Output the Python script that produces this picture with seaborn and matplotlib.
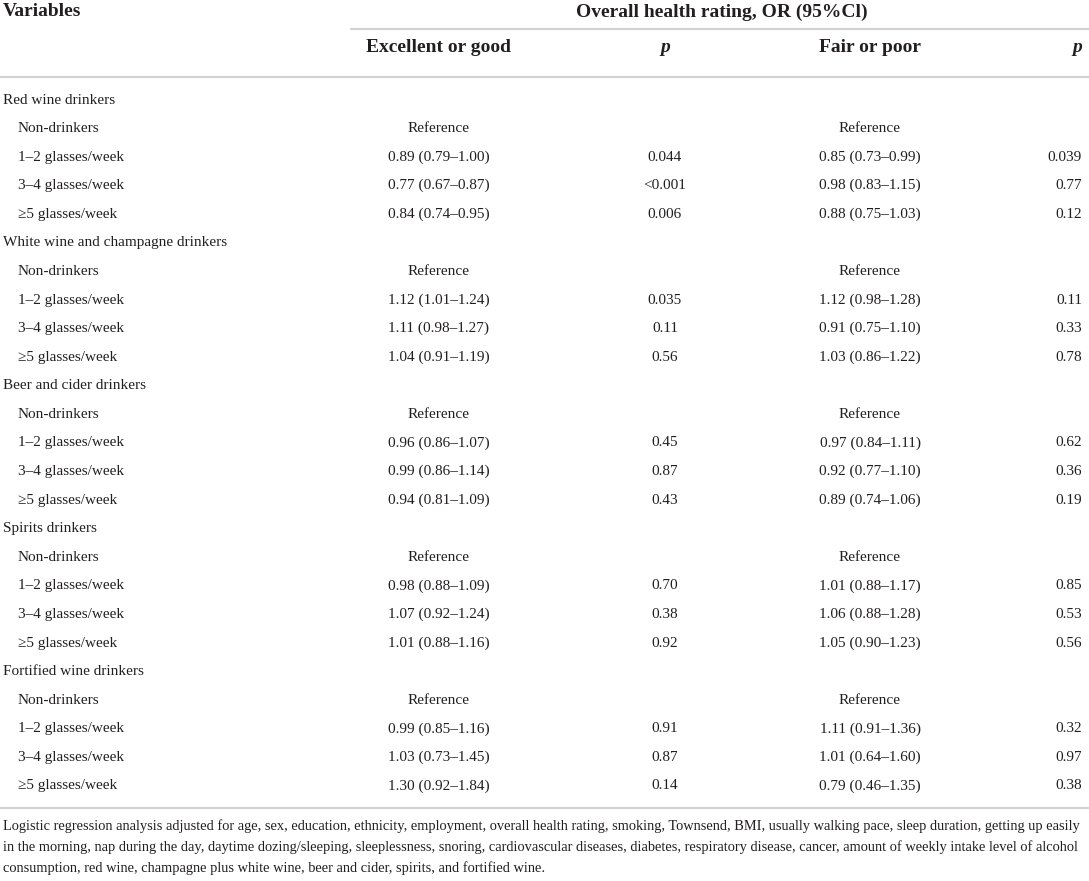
import matplotlib
matplotlib.use("Agg")
import matplotlib.pyplot as plt
import seaborn as sns

# Donnees du tableau
groups = ["Red wine drinkers", "White wine and champagne drinkers", "Beer and cider drinkers",
          "Spirits drinkers", "Fortified wine drinkers"]
levels = ["Non-drinkers", "1–2 glasses/week", "3–4 glasses/week", "≥5 glasses/week"]

good_or = [
    ["Reference", "0.89 (0.79–1.00)", "0.77 (0.67–0.87)", "0.84 (0.74–0.95)"],
    ["Reference", "1.12 (1.01–1.24)", "1.11 (0.98–1.27)", "1.04 (0.91–1.19)"],
    ["Reference", "0.96 (0.86–1.07)", "0.99 (0.86–1.14)", "0.94 (0.81–1.09)"],
    ["Reference", "0.98 (0.88–1.09)", "1.07 (0.92–1.24)", "1.01 (0.88–1.16)"],
    ["Reference", "0.99 (0.85–1.16)", "1.03 (0.73–1.45)", "1.30 (0.92–1.84)"],
]
good_p = [
    ["", "0.044", "<0.001", "0.006"],
    ["", "0.035", "0.11", "0.56"],
    ["", "0.45", "0.87", "0.43"],
    ["", "0.70", "0.38", "0.92"],
    ["", "0.91", "0.87", "0.14"],
]
poor_or = [
    ["Reference", "0.85 (0.73–0.99)", "0.98 (0.83–1.15)", "0.88 (0.75–1.03)"],
    ["Reference", "1.12 (0.98–1.28)", "0.91 (0.75–1.10)", "1.03 (0.86–1.22)"],
    ["Reference", "0.97 (0.84–1.11)", "0.92 (0.77–1.10)", "0.89 (0.74–1.06)"],
    ["Reference", "1.01 (0.88–1.17)", "1.06 (0.88–1.28)", "1.05 (0.90–1.23)"],
    ["Reference", "1.11 (0.91–1.36)", "1.01 (0.64–1.60)", "0.79 (0.46–1.35)"],
]
poor_p = [
    ["", "0.039", "0.77", "0.12"],
    ["", "0.11", "0.33", "0.78"],
    ["", "0.62", "0.36", "0.19"],
    ["", "0.85", "0.53", "0.56"],
    ["", "0.32", "0.97", "0.38"],
]

footnote = [
    "Logistic regression analysis adjusted for age, sex, education, ethnicity, employment, overall health rating, smoking, Townsend, BMI, usually walking pace, sleep duration, getting up easily",
    "in the morning, nap during the day, daytime dozing/sleeping, sleeplessness, snoring, cardiovascular diseases, diabetes, respiratory disease, cancer, amount of weekly intake level of alcohol",
    "consumption, red wine, champagne plus white wine, beer and cider, spirits, and fortified wine.",
]

sns.set_style("white")
plt.rcParams['font.family'] = ['Liberation Serif', 'DejaVu Serif']

txt = "#231f20"
grid = "#d2d2d2"

fig = plt.figure(figsize=(10.89, 8.81), dpi=100)
ax = fig.add_axes([0, 0, 1, 1])
ax.set_xlim(0, 1089)
ax.set_ylim(881, 0)
ax.axis("off")

# colonnes
x_lab = 3
x_sub = 18
x_good = 439
x_p1 = 665
x_poor = 870
x_p2 = 1082

fs = 11
fh = 14

# en-tete
ax.text(x_lab, 12, "Variables", fontsize=fh, fontweight="bold", va="center", color=txt)
ax.text(722, 12, "Overall health rating, OR (95%Cl)", fontsize=fh, fontweight="bold",
        va="center", ha="center", color=txt)
ax.plot([351, 1089], [29, 29], color=grid, lw=1.6)
ax.text(x_good, 48, "Excellent or good", fontsize=fh, fontweight="bold", va="center", ha="center", color=txt)
ax.text(x_p1, 48, "p", fontsize=fh, fontweight="bold", style="italic", va="center", ha="center", color=txt)
ax.text(x_poor, 48, "Fair or poor", fontsize=fh, fontweight="bold", va="center", ha="center", color=txt)
ax.text(x_p2, 48, "p", fontsize=fh, fontweight="bold", style="italic", va="center", ha="right", color=txt)
ax.plot([0, 1089], [77, 77], color=grid, lw=1.6)

# lignes du tableau
y0 = 100
step = 28.58
row = 0
for g, name in enumerate(groups):
    ax.text(x_lab, y0 + row * step, name, fontsize=fs, va="center", color=txt)
    row += 1
    for i, lev in enumerate(levels):
        y = y0 + row * step
        ax.text(x_sub, y, lev, fontsize=fs, va="center", color=txt)
        ax.text(x_good, y, good_or[g][i], fontsize=fs, va="center", ha="center", color=txt)
        ax.text(x_p1, y, good_p[g][i], fontsize=fs, va="center", ha="center", color=txt)
        ax.text(x_poor, y, poor_or[g][i], fontsize=fs, va="center", ha="center", color=txt)
        ax.text(x_p2, y, poor_p[g][i], fontsize=fs, va="center", ha="right", color=txt)
        row += 1

ax.plot([0, 1089], [808, 808], color=grid, lw=1.6)

for k, line in enumerate(footnote):
    ax.text(x_lab, 826 + k * 21, line, fontsize=10.4, va="center", color=txt)

fig.savefig("out.png", dpi=100)
